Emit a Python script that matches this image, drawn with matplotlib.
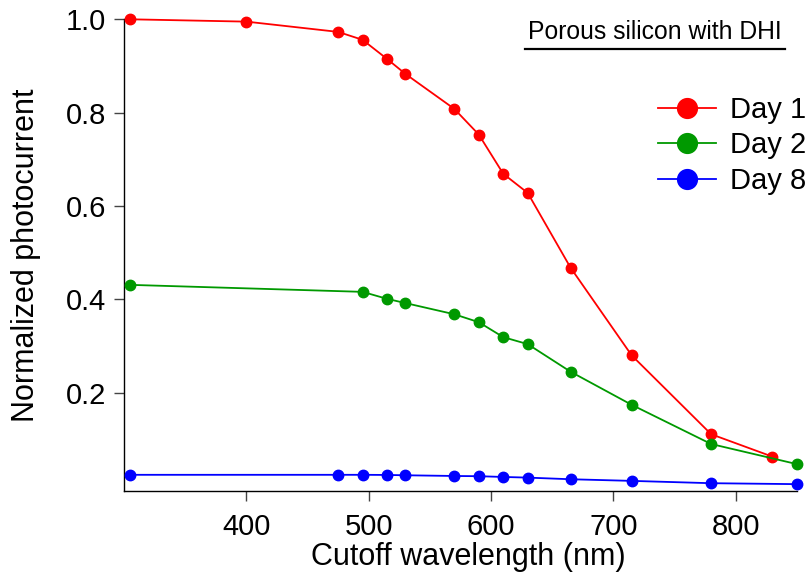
import matplotlib

matplotlib.use("Agg")

import matplotlib.pyplot as plt

plt.rcParams["font.family"] = ["Liberation Sans", "DejaVu Sans"]

# Day 1
day1_wl = [305, 400, 475, 495, 515, 530, 570, 590, 610, 630, 665, 715, 780, 830]
day1_pc = [1.000, 0.995, 0.973, 0.956, 0.915, 0.883, 0.808, 0.753, 0.669, 0.628,
           0.468, 0.280, 0.111, 0.063]

# Day 2
day2_wl = [305, 495, 515, 530, 570, 590, 610, 630, 665, 715, 780, 850]
day2_pc = [0.431, 0.416, 0.401, 0.392, 0.368, 0.351, 0.319, 0.304, 0.245, 0.174,
           0.090, 0.047]

# Day 8
day8_wl = [305, 475, 495, 515, 530, 570, 590, 610, 630, 665, 715, 780, 850]
day8_pc = [0.024, 0.024, 0.024, 0.0237, 0.023, 0.0215, 0.021, 0.0194, 0.018,
           0.0145, 0.011, 0.006, 0.004]

x_ticks = [400, 500, 600, 700, 800]
y_ticks = [0.2, 0.4, 0.6, 0.8, 1.0]

fig = plt.figure(figsize=(8.12, 5.83), dpi=100)
ax = fig.add_axes([0.1523, 0.1578, 0.8289, 0.8091])

series = [
    (day1_wl, day1_pc, "#ff0000", "Day 1"),
    (day2_wl, day2_pc, "#009900", "Day 2"),
    (day8_wl, day8_pc, "#0000ff", "Day 8"),
]
for wl, pc, color, label in series:
    ax.plot(wl, pc, color=color, lw=1.3, marker="o", ms=7.5, label=label,
            clip_on=False, zorder=3)

ax.set_xlim(299.6, 850)
ax.set_ylim(-0.0107, 1.0)
ax.set_xticks(x_ticks)
ax.set_yticks(y_ticks)
ax.set_yticklabels([f"{v:.1f}" for v in y_ticks])

for side in ["top", "right"]:
    ax.spines[side].set_visible(False)
for side in ["left", "bottom"]:
    ax.spines[side].set_linewidth(1.0)
ax.tick_params(axis="both", direction="out", length=7.5, width=1.0,
               color="#444444", labelsize=21)
ax.tick_params(axis="x", pad=8)
ax.tick_params(axis="y", pad=5)

ax.set_xlabel("Cutoff wavelength (nm)", fontsize=22)
ax.set_ylabel("Normalized photocurrent", fontsize=22)
ax.xaxis.set_label_coords(0.512, -0.108)
ax.yaxis.set_label_coords(-0.123, 0.5)

leg = ax.legend(loc="upper right", bbox_to_anchor=(0.993, 0.835),
                bbox_transform=fig.transFigure, frameon=False, fontsize=21,
                markerscale=1.9, handlelength=1.98, handletextpad=0.48,
                labelspacing=0.25, borderpad=0, borderaxespad=0)

fig.text(0.6505, 0.933, "Porous silicon with DHI", fontsize=17.8,
         ha="left", va="baseline")
fig.add_artist(plt.Line2D([525 / 812, 785 / 812], [1 - 49 / 583, 1 - 49 / 583],
                          color="black", lw=1.6, transform=fig.transFigure))

fig.savefig("out.png", dpi=100)
